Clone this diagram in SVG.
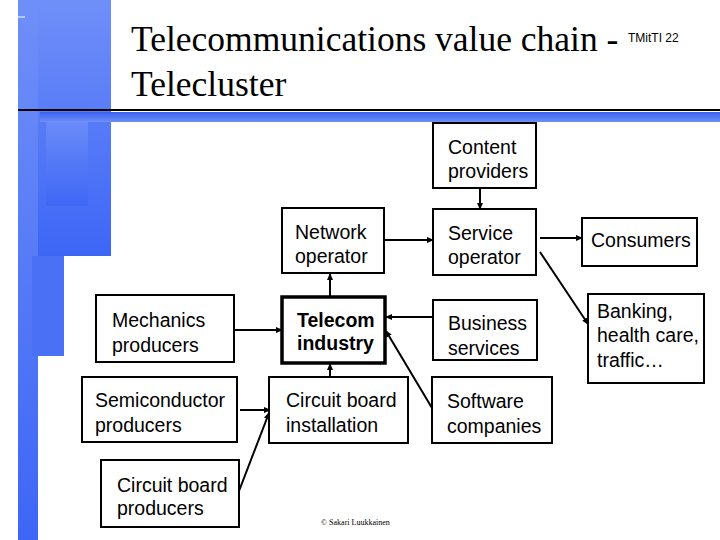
<svg xmlns="http://www.w3.org/2000/svg" width="720" height="540" viewBox="0 0 720 540">
<style>
.box{fill:#fff;stroke:#000;stroke-width:2}
.thick{fill:#fff;stroke:#000;stroke-width:3.5}
.t{font-family:"Liberation Sans",Arial,sans-serif;font-size:19.5px;fill:#000}
.b{font-weight:bold}
.title{font-family:"Liberation Serif","Times New Roman",serif;font-size:35.5px;fill:#000}
.conn line{stroke:#000;stroke-width:2;marker-end:url(#ah)}
</style>
<defs>
<marker id="ah" markerUnits="userSpaceOnUse" markerWidth="7" markerHeight="6" refX="6" refY="3" orient="auto">
<path d="M0,0 L7,3 L0,6 z" fill="#000"/>
</marker>
<linearGradient id="gv" x1="0" y1="0" x2="0" y2="1">
<stop offset="0" stop-color="#6f8ff8"/>
<stop offset="1" stop-color="#3d66f6"/>
</linearGradient>
<linearGradient id="gband" x1="0" y1="0" x2="0" y2="1">
<stop offset="0" stop-color="#3a60f2"/>
<stop offset="1" stop-color="#6d8ff8"/>
</linearGradient>
</defs>
<rect width="720" height="540" fill="#fff"/>
<g id="decor">
<rect x="18" y="0" width="93" height="256" fill="url(#gv)"/>
<rect x="18" y="0" width="20" height="540" fill="url(#gv)"/>
<rect x="32" y="256" width="32" height="100" fill="#4a70f6"/>
<rect x="46" y="116" width="42" height="90" fill="url(#gv)" opacity="0.9"/>
<line x1="17" y1="17" x2="25" y2="17" stroke="#fff" stroke-width="1"/>
<rect x="40" y="112" width="680" height="10" fill="url(#gband)"/>
<line x1="18" y1="110" x2="720" y2="110" stroke="#000" stroke-width="2"/>
</g>
<g id="title">
<text class="title" x="131" y="51">Telecommunications value chain -</text>
<text class="title" x="131" y="96">Telecluster</text>
<text x="628" y="42" font-family="Liberation Sans,Arial,sans-serif" font-size="12">TMitTI 22</text>
</g>
<g class="conn" id="connectors">
<line x1="480" y1="188" x2="480" y2="209"/>
<line x1="384" y1="240" x2="433" y2="240"/>
<line x1="540" y1="238" x2="582" y2="238"/>
<line x1="540" y1="252" x2="588" y2="324"/>
<line x1="330" y1="297" x2="330" y2="274"/>
<line x1="433" y1="317" x2="386" y2="317"/>
<line x1="432" y1="408" x2="386" y2="331"/>
<line x1="330" y1="377" x2="330" y2="364"/>
<line x1="234" y1="330" x2="282" y2="330"/>
<line x1="240" y1="410" x2="270" y2="410"/>
<line x1="239" y1="491" x2="269" y2="413"/>
</g>
<g id="content-providers"><rect class="box" x="433" y="123" width="103" height="65"/><text class="t" x="448" y="154">Content</text><text class="t" x="448" y="178">providers</text></g>
<g id="network-operator"><rect class="box" x="282" y="208" width="102" height="65"/><text class="t" x="295" y="239">Network</text><text class="t" x="295" y="263">operator</text></g>
<g id="service-operator"><rect class="box" x="433" y="209" width="103" height="66"/><text class="t" x="448" y="240">Service</text><text class="t" x="448" y="264">operator</text></g>
<g id="consumers"><rect class="box" x="582" y="218" width="115" height="48"/><text class="t" x="591" y="247">Consumers</text></g>
<g id="banking"><rect class="box" x="588" y="294" width="116" height="89"/><text class="t" x="597" y="318">Banking,</text><text class="t" x="597" y="342">health care,</text><text class="t" x="597" y="367">traffic…</text></g>
<g id="business-services"><rect class="box" x="433" y="300" width="104" height="60"/><text class="t" x="448" y="330">Business</text><text class="t" x="448" y="355">services</text></g>
<g id="telecom-industry"><rect class="thick" x="282" y="297" width="103" height="66"/><text class="t b" x="297" y="327">Telecom</text><text class="t b" x="297" y="350">industry</text></g>
<g id="mechanics-producers"><rect class="box" x="96" y="295" width="138" height="67"/><text class="t" x="112" y="327">Mechanics</text><text class="t" x="112" y="352">producers</text></g>
<g id="semiconductor-producers"><rect class="box" x="82" y="377" width="155" height="65"/><text class="t" x="95" y="407">Semiconductor</text><text class="t" x="95" y="432">producers</text></g>
<g id="circuit-board-producers"><rect class="box" x="101" y="460" width="138" height="67"/><text class="t" x="117" y="492">Circuit board</text><text class="t" x="117" y="515">producers</text></g>
<g id="circuit-board-installation"><rect class="box" x="269" y="377" width="139" height="66"/><text class="t" x="286" y="407">Circuit board</text><text class="t" x="286" y="432">installation</text></g>
<g id="software-companies"><rect class="box" x="432" y="377" width="120" height="66"/><text class="t" x="447" y="408">Software</text><text class="t" x="447" y="433">companies</text></g>
<text x="321" y="525" font-family="Liberation Serif,Times New Roman,serif" font-size="8">© Sakari Luukkainen</text>
</svg>
